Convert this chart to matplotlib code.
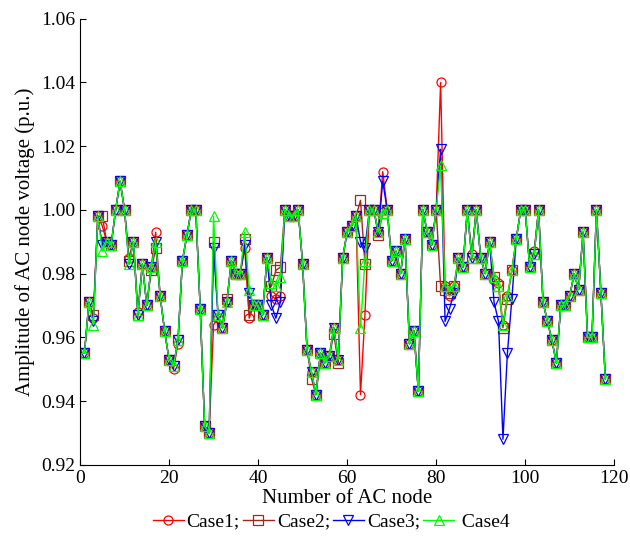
import numpy as np
import matplotlib.pyplot as plt

plt.rcParams['font.family'] = ['Liberation Serif', 'DejaVu Serif']

nodes = np.arange(1, 119)

# common voltage profile (p.u.), nodes 1..118
base = [0.955, 0.971, 0.966, 0.998, 0.990, 0.990, 0.989, 1.000, 1.009, 1.000,
        0.984, 0.990, 0.967, 0.983, 0.970, 0.982, 0.990, 0.973, 0.962, 0.953,
        0.951, 0.959, 0.984, 0.992, 1.000, 1.000, 0.969, 0.932, 0.930, 0.990,
        0.967, 0.963, 0.971, 0.984, 0.980, 0.980, 0.990, 0.970, 0.970, 0.970,
        0.967, 0.985, 0.973, 0.974, 0.975, 1.000, 0.998, 0.998, 1.000, 0.983,
        0.956, 0.949, 0.942, 0.955, 0.952, 0.954, 0.963, 0.953, 0.985, 0.993,
        0.995, 0.998, 0.990, 0.984, 1.000, 1.000, 0.993, 0.999, 1.000, 0.984,
        0.987, 0.980, 0.991, 0.958, 0.962, 0.943, 1.000, 0.993, 0.989, 1.000,
        0.976, 0.976, 0.975, 0.976, 0.985, 0.982, 1.000, 0.985, 1.000, 0.985,
        0.980, 0.990, 0.979, 0.976, 0.964, 0.973, 0.981, 0.991, 1.000, 1.000,
        0.982, 0.986, 1.000, 0.971, 0.965, 0.959, 0.952, 0.970, 0.970, 0.973,
        0.980, 0.975, 0.993, 0.960, 0.960, 1.000, 0.974, 0.947]

# node -> value where a case departs from the common profile
case1_diff = {3: 0.966, 5: 0.995, 11: 0.985, 13: 0.968, 17: 0.993, 21: 0.950,
              22: 0.958, 30: 0.964, 31: 0.966, 37: 0.988, 38: 0.966, 43: 0.973,
              44: 0.972, 45: 0.973, 63: 0.942, 64: 0.967, 68: 1.012, 81: 1.040,
              82: 0.976, 83: 0.973, 88: 0.986, 93: 0.978, 94: 0.977, 102: 0.987}
case2_diff = {3: 0.967, 5: 0.998, 11: 0.984, 16: 0.981, 17: 0.988, 30: 0.990,
              33: 0.972, 37: 0.991, 38: 0.967, 43: 0.976, 44: 0.981, 45: 0.982,
              52: 0.947, 57: 0.961, 58: 0.952, 63: 1.003, 64: 0.983, 67: 0.992,
              81: 0.976, 82: 0.975, 83: 0.974, 95: 0.963, 96: 0.972}
case3_diff = {3: 0.965, 5: 0.989, 11: 0.983, 30: 0.988, 37: 0.989, 38: 0.974,
              43: 0.970, 44: 0.966, 45: 0.971, 63: 0.990, 64: 0.988, 68: 1.009,
              81: 1.019, 82: 0.965, 83: 0.969, 84: 0.974, 93: 0.971, 94: 0.965,
              95: 0.928, 96: 0.955, 97: 0.972}
case4_diff = {3: 0.964, 5: 0.987, 11: 0.983, 30: 0.998, 37: 0.993, 38: 0.975,
              43: 0.977, 44: 0.976, 45: 0.979, 63: 0.963, 64: 0.984, 81: 1.014,
              82: 0.976, 83: 0.975}


def make_case(diff):
    v = np.array(base, dtype=float)
    for k, val in diff.items():
        v[k - 1] = val
    return v


cases = [
    ("Case1;", make_case(case1_diff), "#ff0000", "o"),
    ("Case2;", make_case(case2_diff), "#a0281e", "s"),
    ("Case3;", make_case(case3_diff), "#0000ff", "v"),
    (" Case4", make_case(case4_diff), "#00ff00", "^"),
]

fig = plt.figure(figsize=(6.3, 5.36), dpi=100)
ax = fig.add_axes([0.127, 0.133, 0.848, 0.832])

for label, y, color, marker in cases:
    ax.plot(nodes, y, color=color, marker=marker, markersize=6.5,
            markerfacecolor="none", markeredgewidth=0.9, linewidth=1.0,
            label=label)

ax.set_xlim(0, 120)
ax.set_ylim(0.92, 1.06)
ax.set_xticks(np.arange(0, 121, 20))
ax.set_yticks(np.arange(0.92, 1.0601, 0.02))
ax.set_yticklabels([f"{v:.2f}" for v in np.arange(0.92, 1.0601, 0.02)])
ax.tick_params(direction="in", labelsize=14, length=4)
ax.spines["top"].set_visible(False)
ax.spines["right"].set_visible(False)

ax.set_xlabel("Number of AC node", fontsize=15, labelpad=2)
ax.set_ylabel("Amplitude of AC node voltage (p.u.)", fontsize=15, labelpad=4)

ax.legend(loc="center", bbox_to_anchor=(0.47, -0.128), ncol=4,
          frameon=False, fontsize=14, handlelength=1.6, handletextpad=0.15,
          columnspacing=0.15, borderpad=0.1)

fig.savefig("out.png", dpi=100)
